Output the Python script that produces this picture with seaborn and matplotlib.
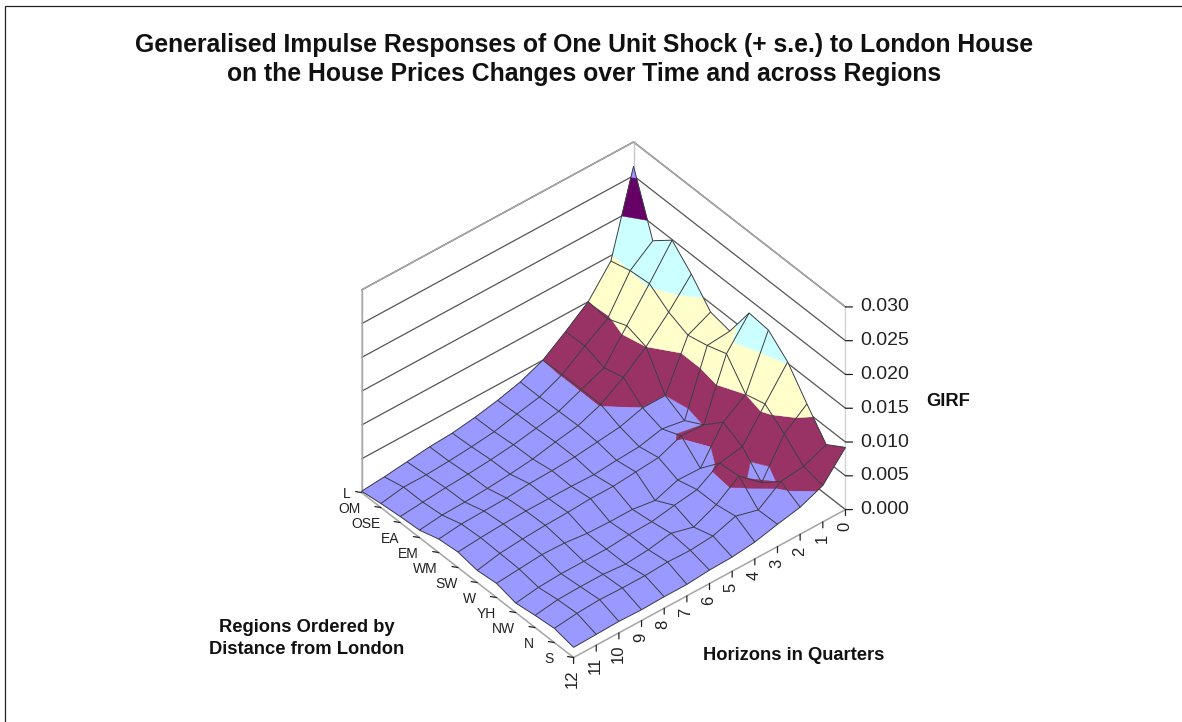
import numpy as np
import matplotlib
matplotlib.use("Agg")
import matplotlib.pyplot as plt
import seaborn as sns
from mpl_toolkits.mplot3d import proj3d
from mpl_toolkits.mplot3d.art3d import Poly3DCollection

TITLE = ["Generalised Impulse Responses of One Unit Shock (+ s.e.) to London House",
         "on the House Prices Changes over Time and across Regions"]
regions = ["L", "OM", "OSE", "EA", "EM", "WM", "SW", "W", "YH", "NW", "N", "S"]
horizons = list(range(13))
z_ticks = [0.000, 0.005, 0.010, 0.015, 0.020, 0.025, 0.030]
band_levels = [0.000, 0.005, 0.010, 0.015, 0.020, 0.025, 0.030]
band_colors = ["#9999FF", "#993366", "#FFFFCC", "#CCFFFF", "#660066", "#9999FF"]

# rows: regions L..S, columns: horizons 0..12
girf = np.array([
 [.0264,.0142,.0100,.0074,.0050,.0036,.0027,.0020,.0015,.0013,.0009,.0005,.0002],
 [.0176,.0150,.0097,.0075,.0051,.0036,.0029,.0021,.0017,.0014,.0012,.0012,.0006],
 [.0199,.0153,.0109,.0065,.0051,.0037,.0030,.0024,.0020,.0017,.0015,.0012,.0009],
 [.0171,.0133,.0100,.0073,.0051,.0038,.0032,.0025,.0021,.0018,.0016,.0015,.0011],
 [.0137,.0121,.0050,.0050,.0040,.0036,.0032,.0030,.0029,.0026,.0025,.0024,.0020],
 [.0131,.0128,.0035,.0041,.0033,.0031,.0028,.0029,.0029,.0029,.0028,.0026,.0023],
 [.0180,.0138,.0051,.0053,.0039,.0036,.0033,.0033,.0031,.0030,.0028,.0025,.0018],
 [.0177,.0100,.0077,.0027,.0028,.0016,.0021,.0021,.0022,.0026,.0027,.0024,.0021],
 [.0152,.0108,.0063,.0057,.0036,.0031,.0025,.0024,.0021,.0021,.0021,.0019,.0014],
 [.0112,.0086,.0032,.0060,.0036,.0021,.0030,.0024,.0021,.0024,.0024,.0023,.0018],
 [.0074,.0060,.0056,.0032,.0041,.0030,.0027,.0028,.0026,.0026,.0027,.0025,.0021],
 [.0092,.0054,.0040,.0033,.0025,.0021,.0020,.0017,.0017,.0016,.0017,.0016,.0015],
])

def clip_band(poly, lo, hi):
    """Clip a 3-D polygon to lo <= z <= hi."""
    for lim, sign in ((lo, 1), (hi, -1)):
        out = []
        n = len(poly)
        for i in range(n):
            a, b = poly[i], poly[(i + 1) % n]
            da, db = sign * (a[2] - lim), sign * (b[2] - lim)
            if da >= 0:
                out.append(a)
            if da * db < 0:
                t = da / (da - db)
                out.append(tuple(a[k] + t * (b[k] - a[k]) for k in range(3)))
        poly = out
        if not poly:
            return []
    return poly

sns.set_theme(style="white")
plt.rcParams['font.family'] = ['Liberation Sans', 'DejaVu Sans']
fig = plt.figure(figsize=(11.82, 7.22), dpi=100, facecolor="white")
fig.add_artist(plt.Rectangle((5/1182, -0.01), 1.1, 1 - 6/722 + 0.01, transform=fig.transFigure,
                             fill=False, ec="#222222", lw=0.9))

S = 537
cx, cy = 596.3, 722 - 407
ax = fig.add_axes([(cx - S/2)/1182, (cy - S/2)/722, S/1182, S/722], projection="3d",
                  proj_type="ortho", computed_zorder=False)
ax.patch.set_alpha(0)
ax.view_init(elev=40.6, azim=50.1)
ax.set_box_aspect((354.5, 330.5, 267), zoom=1.0)
xmax, ymax, zmax = 12, 11, 0.03
ax.set_xlim(0, xmax); ax.set_ylim(0, ymax); ax.set_zlim(0, zmax)

# back-wall outline, under the surface
grey = "#a6a6a6"
ax.plot([0, 0], [0, 0], [0, zmax], color="#c8c8c8", lw=1.0, zorder=1)
ax.plot([xmax, 0, 0], [0, 0, ymax], [zmax, zmax, zmax], color=grey, lw=1.1, zorder=1)

polys, cols = [], []
for r in range(len(regions) - 1):
    for h in range(len(horizons) - 1):
        q = [(h, r, girf[r, h]), (h + 1, r, girf[r, h + 1]),
             (h + 1, r + 1, girf[r + 1, h + 1]), (h, r + 1, girf[r + 1, h])]
        for lo, hi, c in zip(band_levels[:-1], band_levels[1:], band_colors):
            p = clip_band(q, lo, hi)
            if len(p) >= 3:
                polys.append(p); cols.append(c)
surf = Poly3DCollection(polys, facecolors=cols, edgecolors=cols, linewidths=0.3, zsort="average", zorder=2)
ax.add_collection3d(surf)
X, Y = np.meshgrid(horizons, np.arange(len(regions)))
ax.plot_wireframe(X, Y, girf, color="#3c3c46", linewidth=0.7, zorder=3)

ax.set_xticks(horizons); ax.set_xticklabels([])
ax.set_yticks(range(len(regions))); ax.set_yticklabels([])
ax.set_zticks(z_ticks); ax.set_zticklabels([])
for axis in (ax.xaxis, ax.yaxis, ax.zaxis):
    axis.pane.set_facecolor((1, 1, 1, 0))
    axis.pane.set_edgecolor(grey)
    axis.pane.set_linewidth(1.0)
    axis.line.set_color(grey)
    axis.line.set_linewidth(1.0)
    axis._axinfo["tick"]["inward_factor"] = 0
    axis._axinfo["tick"]["outward_factor"] = 0
ax.xaxis._axinfo["grid"].update(linewidth=0, color=(1, 1, 1, 0))
ax.yaxis._axinfo["grid"].update(linewidth=0, color=(1, 1, 1, 0))
ax.zaxis._axinfo["grid"].update(linewidth=0.9, color="#555555")
ax.grid(True)

fig.canvas.draw()
M = ax.get_proj()
def mark(xv, yv, zv, tick, text, text_off, **kw):
    px, py, _ = proj3d.proj_transform(xv, yv, zv, M)
    ax.annotate("", (px, py), xytext=tick, xycoords="data", textcoords=("offset pixels"),
                arrowprops=dict(arrowstyle="-", lw=0.9, color="#222222", shrinkA=0, shrinkB=0),
                annotation_clip=False)
    ax.annotate(text, (px, py), xytext=text_off, xycoords="data", textcoords="offset pixels",
                annotation_clip=False, color="#222222", **kw)

for i, name in enumerate(regions):
    mark(xmax, i, 0, (-6, 1), name, (-11 if i == 0 else -20, -1), ha="right", va="center", fontsize=10)
for h in horizons:
    mark(h, ymax, 0, (0, -6), str(h), (-1, -12), ha="center", va="top", rotation=90, fontsize=12)
for v in z_ticks:
    mark(0, ymax, v, (7, 0), f"{v:.3f}", (15, 0), ha="left", va="center", fontsize=14)

def ftext(x, y, s, **kw):
    fig.text(x / 1182, 1 - y / 722, s, ha="center", va="center", fontweight="bold", color="#111111", **kw)
ftext(584.5, 45, TITLE[0], fontsize=17.8)
ftext(584, 74, TITLE[1], fontsize=17.8)
ftext(948, 402, "GIRF", fontsize=13.2)
ftext(307, 628, "Regions Ordered by", fontsize=13.2)
ftext(307, 649, "Distance from London", fontsize=13.2)
ftext(794, 656, "Horizons in Quarters", fontsize=13.2)
fig.savefig("out.png", dpi=100)
